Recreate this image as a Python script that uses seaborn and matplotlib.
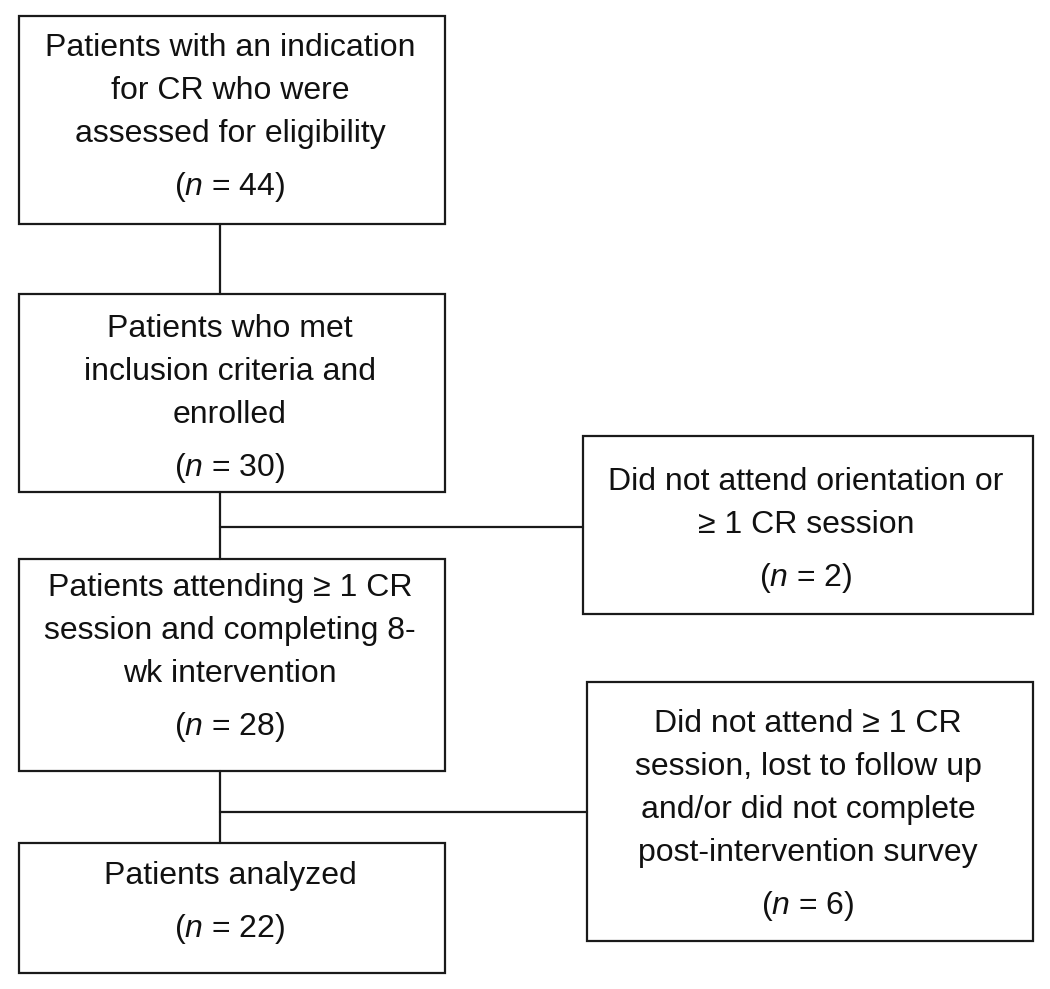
import matplotlib
matplotlib.use("Agg")
import matplotlib.pyplot as plt
from matplotlib.patches import Rectangle
import seaborn as sns

# ---- data ----
main_labels = [
    ["Patients with an indication", "for CR who were", "assessed for eligibility"],
    ["Patients who met", "inclusion criteria and", "enrolled"],
    ["Patients attending \u2265 1 CR", "session and completing 8-", "wk intervention"],
    ["Patients analyzed"],
]
main_counts = [44, 30, 28, 22]
excl_labels = [
    ["Did not attend orientation or", "\u2265 1 CR session"],
    ["Did not attend \u2265 1 CR", "session, lost to follow up", "and/or did not complete",
     "post-intervention survey"],
]
excl_counts = [2, 6]

# ---- layout (pixels) ----
main_boxes = [(19, 16, 445, 224), (19, 294, 445, 492), (19, 559, 445, 771), (19, 843, 445, 973)]
main_first = [48, 329, 588, 876]
excl_boxes = [(583, 436, 1033, 614), (587, 682, 1033, 941)]
excl_first = [482, 724]
branch_y = [527, 812]
stem_x = 220
LS, NG = 43, 53

sns.set_theme(style="white")
plt.rcParams["font.family"] = ["Liberation Sans", "DejaVu Sans"]
plt.rcParams["mathtext.fontset"] = "custom"
plt.rcParams["mathtext.rm"] = "Liberation Sans"
plt.rcParams["mathtext.it"] = "Liberation Sans:italic"

fig = plt.figure(figsize=(10.5, 9.89), dpi=100)
ax = fig.add_axes([0, 0, 1, 1])
ax.set_xlim(0, 1050)
ax.set_ylim(989, 0)
ax.axis("off")

FS = 23
EC = "#1a1a1a"
LW = 1.6

def draw_box(b, lines, count, first):
    x0, y0, x1, y1 = b
    ax.add_patch(Rectangle((x0, y0), x1 - x0, y1 - y0, fill=False, ec=EC, lw=LW))
    cx = (x0 + x1) / 2 - 2
    y = first
    for ln in lines:
        ax.text(cx, y, ln, ha="center", va="center", fontsize=FS, color="#111")
        y += LS
    y = first + LS * (len(lines) - 1) + NG
    ax.text(cx, y, r"($\mathit{n}$ = %d)" % count, ha="center", va="center", fontsize=FS, color="#111")

for b, lab, c, f in zip(main_boxes, main_labels, main_counts, main_first):
    draw_box(b, lab, c, f)
for b, lab, c, f in zip(excl_boxes, excl_labels, excl_counts, excl_first):
    draw_box(b, lab, c, f)

# connectors
for i in range(3):
    ax.plot([stem_x, stem_x], [main_boxes[i][3], main_boxes[i + 1][1]], color=EC, lw=LW)
for by, eb in zip(branch_y, excl_boxes):
    ax.plot([stem_x, eb[0]], [by, by], color=EC, lw=LW)

fig.savefig("out.png", dpi=100, facecolor="white")
